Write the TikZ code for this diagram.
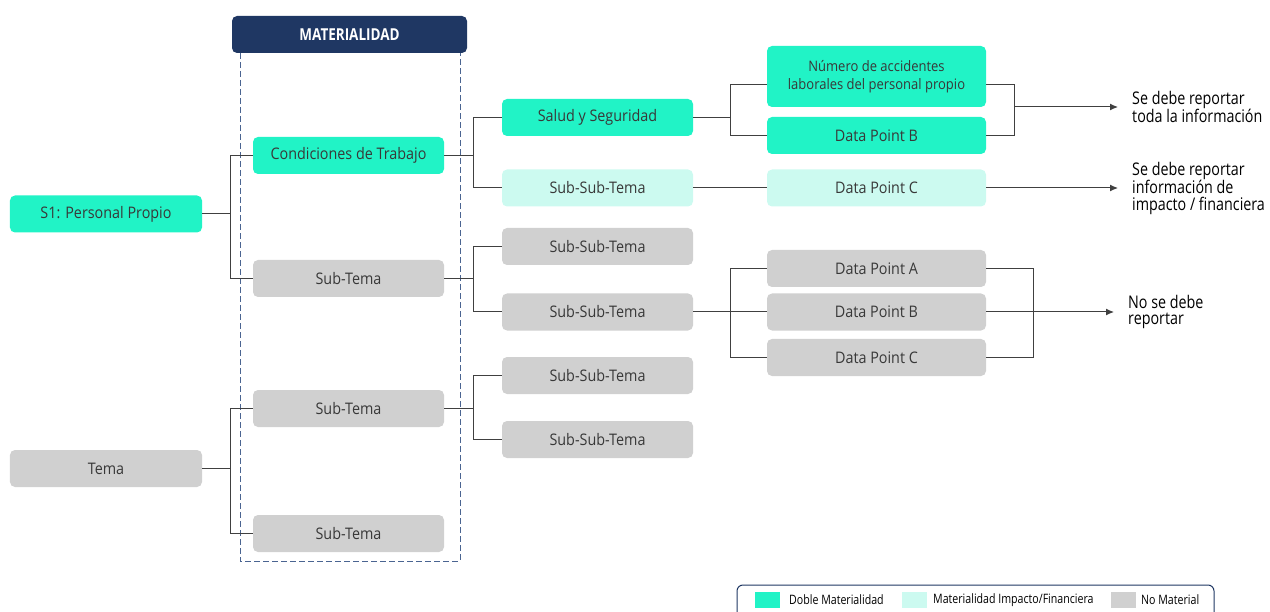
\documentclass[tikz,border=0pt]{standalone}
\usepackage{fontspec}
\setmainfont{Open Sans}
\newfontfamily\condfont[FakeStretch=0.9]{Open Sans}
\newfontfamily\narrowfont[FakeStretch=0.82]{Open Sans}
\usepackage{tikz}
\usetikzlibrary{arrows.meta}

\definecolor{doble}{HTML}{21F3C6}
\definecolor{impfin}{HTML}{CCFAF0}
\definecolor{nomat}{HTML}{D0D0D0}
\definecolor{navy}{HTML}{1F3763}
\definecolor{matframe}{HTML}{4A6491}
\definecolor{boxtext}{HTML}{383838}

\begin{document}
\begin{tikzpicture}[>={Latex[length=8bp,width=7bp]}, x=1bp, y=-1bp,
	box/.style={rectangle, rounded corners=5bp, minimum height=37bp,
		text=boxtext, font=\condfont\fontsize{16}{18}\selectfont},
	tema/.style={box, minimum width=192bp},
	subtema/.style={box, minimum width=191bp},
	datapoint/.style={box, minimum width=219bp},
	link/.style={draw=black!75, line width=1bp},
	outcome/.style={anchor=west, align=left, inner xsep=14bp, inner ysep=0bp,
		font=\narrowfont\fontsize{17.5}{16.5}\selectfont},
	swatch/.style={rectangle, minimum width=25bp, minimum height=16bp, inner sep=0bp},
	legtext/.style={anchor=west, inner sep=0bp, font=\narrowfont\fontsize{13}{14}\selectfont}]
	\clip (0,0) rectangle (1270,612);

	% columna de materialidad
	\draw [matframe, line width=1bp, dash pattern=on 6bp off 3bp] (240,53) rectangle (460,561);
	\node [rectangle, rounded corners=5bp, fill=navy, text=white, minimum width=235bp,
		minimum height=37bp, font=\narrowfont\bfseries\fontsize{16.5}{18}\selectfont]
		(MAT) at (349.5,34.5) {MATERIALIDAD};

	% temas
	\node [tema, fill=doble] (S1)   at (106,214)   {S1: Personal Propio};
	\node [tema, fill=nomat] (Tema) at (106,468.5) {Tema};

	% sub-temas
	\node [subtema, fill=doble] (Cond) at (348.5,155.5) {Condiciones de Trabajo};
	\node [subtema, fill=nomat] (STa)  at (348.5,278.5) {Sub-Tema};
	\node [subtema, fill=nomat] (STb)  at (348.5,408.5) {Sub-Tema};
	\node [subtema, fill=nomat] (STc)  at (348.5,533.5) {Sub-Tema};

	% sub-sub-temas
	\node [subtema, fill=doble]  (Salud) at (597.5,117.5) {Salud y Seguridad};
	\node [subtema, fill=impfin] (SSl)   at (597.5,188)   {Sub-Sub-Tema};
	\node [subtema, fill=nomat]  (SSa)   at (597.5,246.5) {Sub-Sub-Tema};
	\node [subtema, fill=nomat]  (SSb)   at (597.5,312)   {Sub-Sub-Tema};
	\node [subtema, fill=nomat]  (SSc)   at (597.5,375.5) {Sub-Sub-Tema};
	\node [subtema, fill=nomat]  (SSd)   at (597.5,439.5) {Sub-Sub-Tema};

	% data points
	\node [datapoint, fill=doble, minimum height=61bp, align=center,
		font=\condfont\fontsize{14.5}{17.5}\selectfont]
		(Num)  at (876.5,76.5)  {Número de accidentes\\laborales del personal propio};
	\node [datapoint, fill=doble]  (DPBt) at (876.5,135.5) {Data Point B};
	\node [datapoint, fill=impfin] (DPCl) at (876.5,188)   {Data Point C};
	\node [datapoint, fill=nomat]  (DPA)  at (876.5,268.5) {Data Point A};
	\node [datapoint, fill=nomat]  (DPB)  at (876.5,312)   {Data Point B};
	\node [datapoint, fill=nomat]  (DPC)  at (876.5,357.5) {Data Point C};

	% resultados
	\node [outcome] (repAll) at (1118,107) {Se debe reportar\\toda la información};
	\node [outcome] (repImp) at (1118,188) {Se debe reportar\\información de\\impacto / financiera};
	\node [outcome] (repNo)  at (1114,312) {No se debe\\reportar};

	% conectores
	\draw [link] (S1.east) -- ++(28,0) |- (Cond.west);
	\draw [link] (S1.east) -- ++(28,0) |- (STa.west);
	\draw [link] (Tema.east) -- ++(28,0) |- (STb.west);
	\draw [link] (Tema.east) -- ++(28,0) |- (STc.west);

	\draw [link] (Cond.east) -- ++(29,0) |- (Salud.west);
	\draw [link] (Cond.east) -- ++(29,0) |- (SSl.west);
	\draw [link] (STa.east) -- ++(29,0) |- (SSa.west);
	\draw [link] (STa.east) -- ++(29,0) |- (SSb.west);
	\draw [link] (STb.east) -- ++(29,0) |- (SSc.west);
	\draw [link] (STb.east) -- ++(29,0) |- (SSd.west);

	\draw [link] (Salud.east) -- ++(37,0) |- ([yshift=-8bp]Num.west);
	\draw [link] (Salud.east) -- ++(37,0) |- (DPBt.west);
	\draw [link] (SSl.east) -- (DPCl.west);
	\draw [link] (SSb.east) -- ++(37,0) |- (DPA.west);
	\draw [link] (SSb.east) -- (DPB.west);
	\draw [link] (SSb.east) -- ++(37,0) |- (DPC.west);

	\draw [link] ([yshift=-8bp]Num.east) -- ++(28,0) |- (DPBt.east);
	\coordinate (jAll) at (1014,107);
	\draw [link, ->] (jAll) -- (repAll.west);
	\draw [link, ->] (DPCl.east) -- (repImp.west);
	\draw [link] (DPA.east) -- ++(47,0) |- (DPC.east);
	\draw [link, ->] (DPB.east) -- (repNo.west);

	% leyenda
	\draw [navy, line width=1bp, rounded corners=6bp] (737,585) rectangle (1214,630);
	\node [swatch, fill=doble]  (swD) at (767,600) {};
	\node [legtext] (lgD) at (789,600) {Doble Materialidad};
	\node [swatch, fill=impfin] (swI) at (914,600) {};
	\node [legtext] (lgI) at (933,600) {Materialidad Impacto/Financiera};
	\node [swatch, fill=nomat]  (swN) at (1123,600) {};
	\node [legtext] (lgN) at (1141,600) {No Material};
\end{tikzpicture}
\end{document}
